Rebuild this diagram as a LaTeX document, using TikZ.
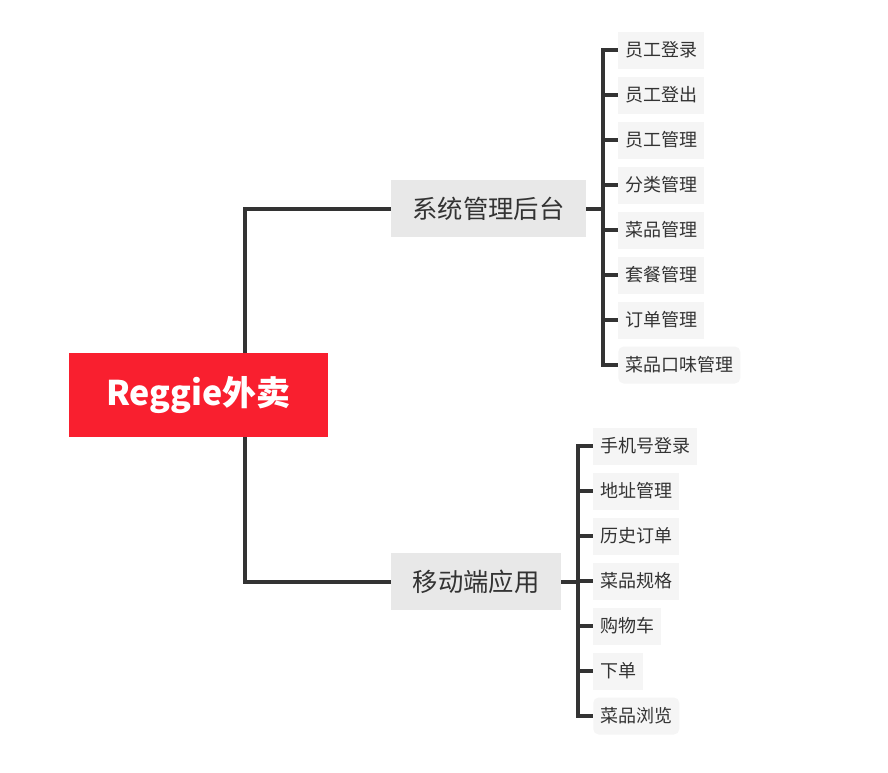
\documentclass[tikz,border=0pt]{standalone}
\usepackage{fontspec}
\newfontfamily\cjk{Noto Sans CJK SC}
\definecolor{rootred}{HTML}{F91F2F}
\definecolor{branchgray}{HTML}{E8E8E8}
\definecolor{leafgray}{HTML}{F5F5F5}
\definecolor{ink}{HTML}{333333}
\tikzset{
  rootbox/.style={fill=rootred, text=white, minimum width=194.25pt, minimum height=63pt, inner sep=0pt, font=\cjk\bfseries\fontsize{25.5}{28}\selectfont},
  branchbox/.style={fill=branchgray, text=ink, minimum height=42.75pt, inner sep=0pt, font=\cjk\fontsize{19}{22}\selectfont},
  leafbox/.style={fill=leafgray, text=ink, anchor=west, minimum height=27.75pt, inner xsep=5.25pt, inner ysep=0pt, font=\cjk\fontsize{13.5}{16}\selectfont},
  lastleaf/.style={leafbox, rounded corners=4pt},
  conn/.style={draw=ink, line width=3pt},
}
\begin{document}
\begin{tikzpicture}[x=0.75pt, y=-0.75pt]
\useasboundingbox (0,0) rectangle (888,772);
\node[rootbox] (root) at (198.5,395) {Reggie外卖};
\node[branchbox, minimum width=146.25pt] (b1) at (488.5,208.5) {系统管理后台};
\node[branchbox, minimum width=127.5pt] (b2) at (476,581.5) {移动端应用};
% group 1 leaves
\node[leafbox] (a1) at (618,50) {员工登录};
\node[leafbox] (a2) at (618,95) {员工登出};
\node[leafbox] (a3) at (618,140) {员工管理};
\node[leafbox] (a4) at (618,185) {分类管理};
\node[leafbox] (a5) at (618,230) {菜品管理};
\node[leafbox] (a6) at (618,275) {套餐管理};
\node[leafbox] (a7) at (618,320) {订单管理};
\node[lastleaf] (a8) at (618,365) {菜品口味管理};
% group 2 leaves
\node[leafbox] (c1) at (593,446) {手机号登录};
\node[leafbox] (c2) at (593,491) {地址管理};
\node[leafbox] (c3) at (593,536) {历史订单};
\node[leafbox] (c4) at (593,581) {菜品规格};
\node[leafbox] (c5) at (593,626) {购物车};
\node[leafbox] (c6) at (593,671) {下单};
\node[lastleaf] (c7) at (593,716) {菜品浏览};
% trunk
\coordinate (rt) at ([xshift=34.875pt]root.north);
\coordinate (rb) at ([xshift=34.875pt]root.south);
\draw[conn] (rt) |- (b1.west);
\draw[conn] (rb) |- (b2.west);
% group 1 connectors
\coordinate (j1) at ([xshift=12.75pt]b1.east);
\draw[conn] (b1.east) -- (j1);
\foreach \n in {a1,a2,a3,a4,a5,a6,a7,a8}{
  \draw[conn] (j1) |- (\n.west);
}
% group 2 connectors
\coordinate (j2) at ([xshift=12.75pt]b2.east);
\draw[conn] (b2.east) -- (j2);
\foreach \n in {c1,c2,c3,c4,c5,c6,c7}{
  \draw[conn] (j2) |- (\n.west);
}
\end{tikzpicture}
\end{document}
